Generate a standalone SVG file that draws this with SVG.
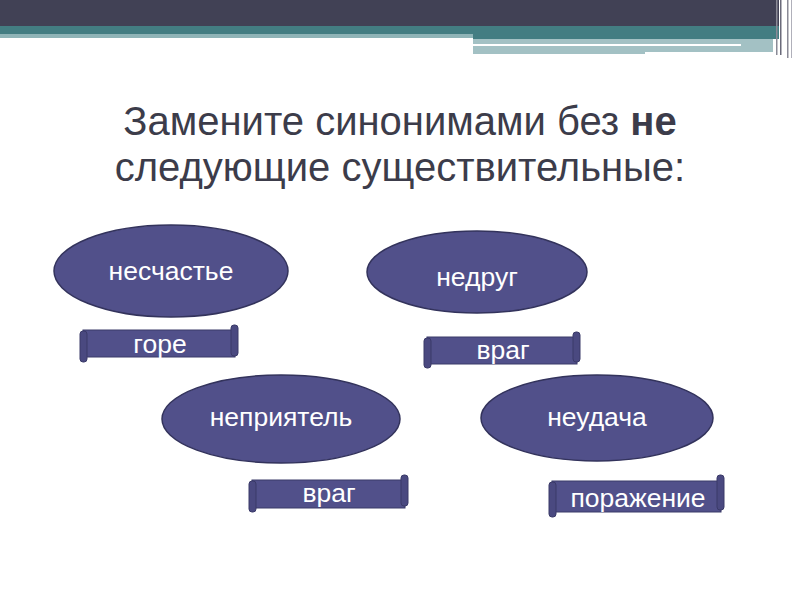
<svg xmlns="http://www.w3.org/2000/svg" width="800" height="600" viewBox="0 0 800 600">
<style>
.node ellipse{fill:#51508a;stroke:#33335c;stroke-width:1.5}
.scroll .body{fill:#51508a;stroke:#3a3a68;stroke-width:1}
.scroll .bar{fill:#4a4980;stroke:#3a3a68;stroke-width:1}
.lbl{font-family:"Liberation Sans",Arial,sans-serif;font-size:26.5px;fill:#ffffff;text-anchor:middle}
.title{font-family:"Liberation Sans",Arial,sans-serif;font-size:40px;fill:#3c3c4a;text-anchor:middle}
</style>
<rect x="0" y="0" width="800" height="600" fill="#ffffff"/>
<g id="header">
<rect x="0" y="0" width="779" height="26" fill="#414155"/>
<rect x="0" y="26" width="473" height="8" fill="#437d82"/>
<rect x="0" y="34" width="473" height="4" fill="#8fb4b7"/>
<rect x="473" y="26" width="306" height="13" fill="#437d82"/>
<rect x="473" y="39" width="300" height="13" fill="#a3c1c4"/>
<rect x="473" y="52" width="172" height="2" fill="#a3c1c4"/>
<rect x="473" y="44" width="268" height="2" fill="#ffffff"/>
<rect x="776" y="0" width="1.5" height="55" fill="#8a8a96"/>
<rect x="780" y="0" width="1.5" height="55" fill="#6a6a7a"/>
<rect x="787" y="0" width="1.5" height="58" fill="#8a8a96"/>
<rect x="791" y="0" width="1" height="58" fill="#b0b0ba"/>
</g>
<g id="title">
<text class="title" x="400" y="135">Замените синонимами без <tspan font-weight="bold">не</tspan></text>
<text class="title" x="400" y="181">следующие существительные:</text>
</g>
<g id="node-neschastye" class="node">
<ellipse cx="171" cy="271" rx="117" ry="46"/>
<text class="lbl" x="171" y="280">несчастье</text>
</g>
<g id="node-nedrug" class="node">
<ellipse cx="477" cy="272" rx="110" ry="41"/>
<text class="lbl" x="477" y="286">недруг</text>
</g>
<g id="node-nepriyatel" class="node">
<ellipse cx="281" cy="419" rx="119" ry="44"/>
<text class="lbl" x="281" y="426">неприятель</text>
</g>
<g id="node-neudacha" class="node">
<ellipse cx="597" cy="418" rx="116" ry="43"/>
<text class="lbl" x="597" y="426">неудача</text>
</g>
<g id="scroll-gore" class="scroll">
<rect class="body" x="83" y="330" width="152" height="27"/>
<rect class="bar" x="80" y="331" width="7" height="31" rx="3"/>
<rect class="bar" x="231" y="325" width="7" height="31" rx="3"/>
<text class="lbl" x="160" y="353">горе</text>
</g>
<g id="scroll-vrag1" class="scroll">
<rect class="body" x="427" y="337" width="150" height="27"/>
<rect class="bar" x="424" y="338" width="7" height="30" rx="3"/>
<rect class="bar" x="573" y="332" width="7" height="30" rx="3"/>
<text class="lbl" x="503" y="359">враг</text>
</g>
<g id="scroll-vrag2" class="scroll">
<rect class="body" x="252" y="480" width="153" height="28"/>
<rect class="bar" x="249" y="481" width="7" height="31" rx="3"/>
<rect class="bar" x="401" y="475" width="7" height="31" rx="3"/>
<text class="lbl" x="329" y="502">враг</text>
</g>
<g id="scroll-porazhenie" class="scroll">
<rect class="body" x="552" y="481" width="169" height="31"/>
<rect class="bar" x="549" y="482" width="7" height="35" rx="3"/>
<rect class="bar" x="717" y="475" width="7" height="35" rx="3"/>
<text class="lbl" x="638" y="507">поражение</text>
</g>
</svg>
